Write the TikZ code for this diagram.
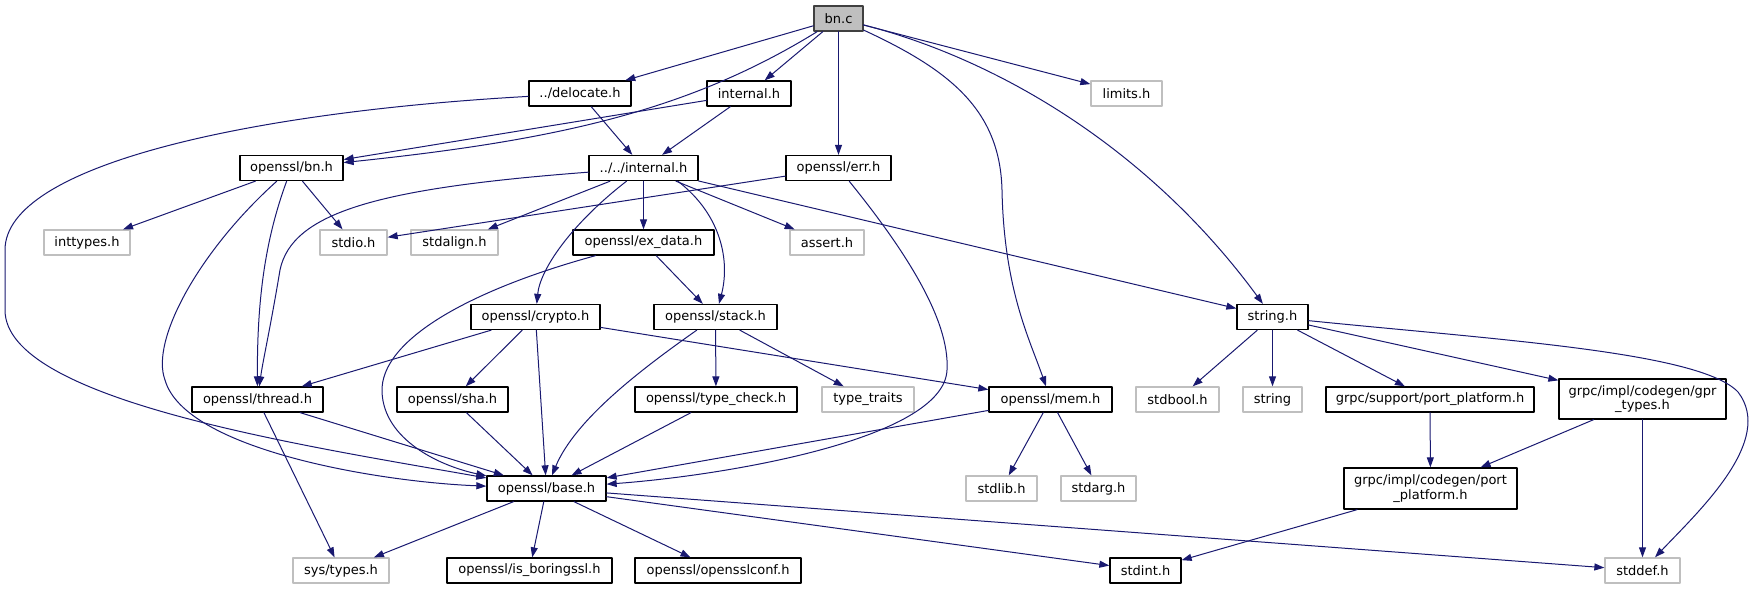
\documentclass[tikz,border=0pt]{standalone}
\usepackage{fontspec}
\setmainfont{DejaVu Sans}
\usetikzlibrary{arrows.meta}
\definecolor{edgeblue}{HTML}{191970}
\definecolor{greyfill}{HTML}{BFBFBF}

\begin{document}
\begin{tikzpicture}[x=1pt, y=-1pt, line cap=round, line join=round,
    hdr/.style={draw=black, line width=1.3pt, fill=white, inner sep=0pt, minimum height=25pt,
        font=\fontsize{13}{14.5}\selectfont, align=center},
    syshdr/.style={hdr, draw=greyfill},
    root/.style={hdr, fill=greyfill, draw=black!75},
    dep/.style={draw=edgeblue, line width=1pt, -{Triangle[length=10pt,width=7pt]}}]
                \useasboundingbox (0,0) rectangle (1758,589);
                % top rows
                \node[root, minimum width=49] (bnc) at (838.5,18.5) {bn.c};
                \node[hdr, minimum width=102] (deloc) at (580,93.5) {../delocate.h};
                \node[hdr, minimum width=84] (intl) at (749,93.5) {internal.h};
                \node[syshdr, minimum width=71] (limits) at (1126.5,93.5) {limits.h};
                \node[hdr, minimum width=103] (bnh) at (291.5,168) {openssl/bn.h};
                \node[hdr, minimum width=109] (iintl) at (643.5,168) {../../internal.h};
                \node[hdr, minimum width=105] (errh) at (838.5,168) {openssl/err.h};
                \node[syshdr, minimum width=86] (inttypes) at (87,242.5) {inttypes.h};
                \node[syshdr, minimum width=67] (stdio) at (353.5,242.5) {stdio.h};
                \node[syshdr, minimum width=87] (stdalign) at (454.5,242.5) {stdalign.h};
                \node[hdr, minimum width=141] (exdata) at (643.5,242.5) {openssl/ex\_data.h};
                \node[syshdr, minimum width=74] (asserth) at (827,242.5) {assert.h};
                \node[hdr, minimum width=129] (crypto) at (535.5,317) {openssl/crypto.h};
                \node[hdr, minimum width=123] (stack) at (715.5,317) {openssl/stack.h};
                \node[hdr, minimum width=71] (stringh) at (1272.5,317) {string.h};
                % middle rows
                \node[hdr, minimum width=131] (thread) at (257.5,399.5) {openssl/thread.h};
                \node[hdr, minimum width=111] (sha) at (452.5,399.5) {openssl/sha.h};
                \node[hdr, minimum width=162] (typecheck) at (716,399.5) {openssl/type\_check.h};
                \node[syshdr, minimum width=92] (typetraits) at (868,399.5) {type\_traits};
                \node[hdr, minimum width=123] (mem) at (1050.5,399.5) {openssl/mem.h};
                \node[syshdr, minimum width=83] (stdbool) at (1177.5,399.5) {stdbool.h};
                \node[syshdr, minimum width=59] (stringx) at (1272.5,399.5) {string};
                \node[hdr, minimum width=208] (gpsupport) at (1430,399.5) {grpc/support/port\_platform.h};
                \node[hdr, minimum width=167, minimum height=40] (gprtypes) at (1642.5,399) {grpc/impl/codegen/gpr\\\_types.h};
                \node[hdr, minimum width=119] (base) at (546.5,488.5) {openssl/base.h};
                \node[syshdr, minimum width=71] (stdlib) at (1001.5,488.5) {stdlib.h};
                \node[syshdr, minimum width=75] (stdarg) at (1098.5,488.5) {stdarg.h};
                \node[hdr, minimum width=173, minimum height=41] (gpcodegen) at (1430.5,488.5) {grpc/impl/codegen/port\\\_platform.h};
                % bottom row
                \node[syshdr, minimum width=96] (systypes) at (341,570.5) {sys/types.h};
                \node[hdr, minimum width=165] (isboring) at (529.5,570.5) {openssl/is\_boringssl.h};
                \node[hdr, minimum width=166] (sslconf) at (718,570.5) {openssl/opensslconf.h};
                \node[hdr, minimum width=71] (stdint) at (1145.5,570.5) {stdint.h};
                \node[syshdr, minimum width=75] (stddef) at (1642.5,570.5) {stddef.h};
                % straight includes
                \foreach \from/\to in {bnc/deloc, bnc/intl, bnc/errh, bnc/limits, deloc/iintl, intl/bnh, intl/iintl,
                        bnh/inttypes, bnh/stdio, iintl/stdalign, iintl/exdata, iintl/asserth, iintl/stringh, errh/stdio,
                        exdata/stack, crypto/thread, crypto/sha, crypto/base, crypto/mem, stack/typecheck, stack/typetraits,
                        thread/base, thread/systypes, sha/base, typecheck/base, mem/base, mem/stdlib, mem/stdarg,
                        stringh/stdbool, stringh/stringx, stringh/gpsupport, stringh/gprtypes, gpsupport/gpcodegen,
                        gprtypes/gpcodegen, gprtypes/stddef, gpcodegen/stdint, base/systypes, base/isboring,
                        base/sslconf, base/stdint, base/stddef}
                    \draw[dep] (\from) -- (\to);
                % curved includes
                \draw[dep] (bnc) .. controls (690,110) and (560,140) .. (bnh);
                \draw[dep] (bnc) .. controls (950,70) and (1000,110) .. (1002,190) .. controls (1004,290) and (1030,340) .. (mem);
                \draw[dep] (bnc) .. controls (1000,60) and (1150,150) .. (stringh);
                \draw[dep] (deloc) .. controls (250,112) and (5,165) .. (5,250) -- (5,310) .. controls (5,400) and (300,445) .. (base);
                \draw[dep] (bnh) .. controls (265,240) and (257,300) .. (thread);
                \draw[dep] (bnh) .. controls (200,250) and (150,340) .. (165,380) .. controls (185,450) and (380,482) .. (base);
                \draw[dep] (iintl) .. controls (380,188) and (292,212) .. (280,270) .. controls (270,330) and (263,360) .. (thread);
                \draw[dep] (iintl.-21) .. controls (722,215) and (730,262) .. (stack);
                \draw[dep] (iintl) .. controls (570,225) and (540,270) .. (crypto);
                \draw[dep] (errh) .. controls (905,250) and (950,320) .. (947,370) .. controls (944,440) and (720,476) .. (base);
                \draw[dep] (exdata) .. controls (470,290) and (380,340) .. (382,392) .. controls (384,440) and (440,466) .. (base);
                \draw[dep] (stack) .. controls (640,370) and (575,420) .. (base);
                \draw[dep] (stringh) .. controls (1500,340) and (1700,352) .. (1738,392) .. controls (1775,440) and (1700,510) .. (stddef);
            \end{tikzpicture}
\end{document}
